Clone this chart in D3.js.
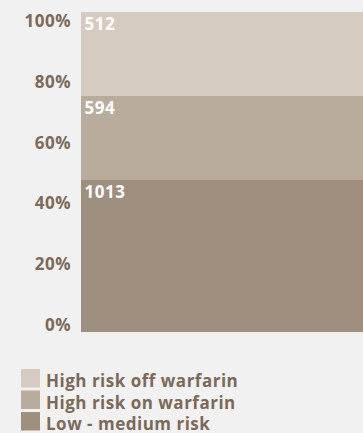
<!DOCTYPE html>
<html>
<head>
<meta charset="utf-8">
<style>
body { margin: 0; background: #f1f1f1; }
svg { display: block; font-family: "Open Sans", sans-serif; font-weight: bold; letter-spacing: 0.5px; }
</style>
</head>
<body>
<svg width="363" height="433"></svg>
<script src="https://cdn.jsdelivr.net/npm/d3@7"></script>
<script>

// stacked from the bottom up
var categories = ["Low - medium risk", "High risk on warfarin", "High risk off warfarin"];
var counts = [1013, 594, 512];
var shares = [47.5, 26.25, 26.25];   // % of bar height as drawn
var colors = ["#9f8f7e", "#b9ac9d", "#d5cbc1"];
var tickValues = [0, 20, 40, 60, 80, 100];

var svg = d3.select("svg"),
    textColor = "#7b6a58";

var y = d3.scaleLinear().domain([0, 100]).range([332, 12]);
// tick labels sit a little inside the bar ends
var yLabel = d3.scaleLinear().domain([0, 100]).range([325, 21]);

var stacked = [], acc = 0;
shares.forEach(function(s, i) {
  stacked.push({ y0: acc, y1: acc + s, count: counts[i], color: colors[i] });
  acc += s;
});

var seg = svg.selectAll("g.seg")
  .data(stacked)
  .enter().append("g")
    .attr("class", "seg");

seg.append("rect")
    .attr("x", 81)
    .attr("width", 282)
    .attr("y", function(d) { return y(d.y1); })
    .attr("height", function(d) { return y(d.y0) - y(d.y1); })
    .attr("fill", function(d) { return d.color; });

seg.append("text")
    .attr("x", 84.5)
    .attr("y", function(d) { return y(d.y1) + 18; })
    .attr("fill", "#fff")
    .attr("font-size", "17px")
    .text(function(d) { return d.count; });

var axis = d3.axisLeft(yLabel)
    .tickValues(tickValues)
    .tickSize(0)
    .tickPadding(0)
    .tickFormat(function(d) { return d + "%"; });

var gAxis = svg.append("g")
    .attr("transform", "translate(71,0)")
    .call(axis);
gAxis.select(".domain").remove();
gAxis.selectAll("text")
    .attr("fill", textColor)
    .attr("font-size", "17px")
    .attr("font-family", "'Open Sans', sans-serif")
    .attr("font-weight", "bold");

// legend, light to dark
var legendOrder = [2, 1, 0];
var legend = svg.selectAll("g.legend")
  .data(legendOrder)
  .enter().append("g")
    .attr("class", "legend")
    .attr("transform", function(d, i) { return "translate(21," + (369 + i * 21.5) + ")"; });

legend.append("rect")
    .attr("width", 19)
    .attr("height", 18.5)
    .attr("fill", function(d) { return colors[d]; });

legend.append("text")
    .attr("x", 25)
    .attr("y", 18)
    .attr("fill", textColor)
    .attr("font-size", "17px")
    .text(function(d) { return categories[d]; });

</script>
</body>
</html>
